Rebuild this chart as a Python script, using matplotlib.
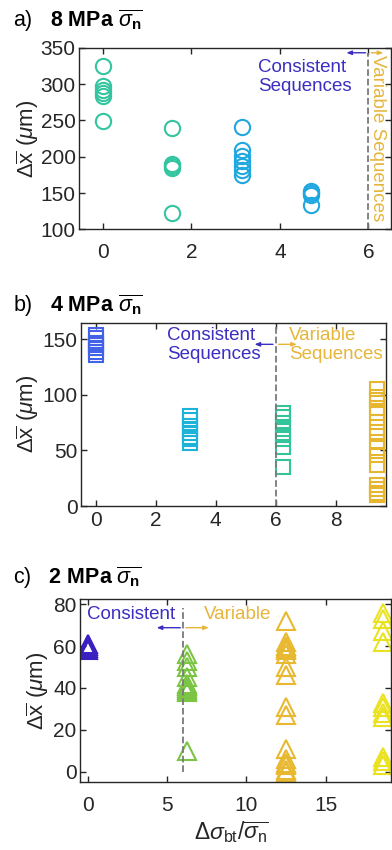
import numpy as np
import matplotlib
matplotlib.use("Agg")
import matplotlib.pyplot as plt

plt.rcParams['font.family'] = ['Liberation Sans', 'DejaVu Sans']
plt.rcParams['mathtext.fontset'] = 'custom'
plt.rcParams['mathtext.rm'] = 'Liberation Sans'
plt.rcParams['mathtext.it'] = 'Liberation Sans:italic'
plt.rcParams['mathtext.bf'] = 'Liberation Sans:bold'

# panel a: 8 MPa, circles
A_X = [0, 1.57, 3.14, 4.71]
A_Y = [
    [325, 297, 292, 288, 283, 249],
    [239, 190, 187, 184, 123],
    [241, 209, 201, 194, 187, 181, 175],
    [153, 150, 147, 133],
]
A_COLORS = ['#33C4A0', '#33C4A0', '#1FA8E0', '#1FA8E0']

# panel b: 4 MPa, squares
B_X = [0, 3.14, 6.25, 9.38]
B_Y = [
    [154, 151, 147, 145, 142, 139, 136],
    [81, 77, 72, 69, 66, 62, 60, 57],
    [84, 80, 75, 69, 64, 60, 53, 35],
    [105, 98, 95, 88, 84, 76, 67, 58, 52, 46, 37, 19, 15, 12, 10],
]
B_COLORS = ['#4262E8', '#1DB2D8', '#33C49A', '#E6B630']

# panel c: 2 MPa, triangles
C_X = [0, 6.26, 12.5, 18.6]
C_Y = [
    [61, 60, 59, 58],
    [56, 53, 50, 45, 42, 41, 40, 39, 38, 10],
    [72, 62, 60, 59, 58, 56, 50, 46, 31, 27, 11, 6, 4, 3, 1, 0],
    [76, 73, 67, 62, 33, 31, 28, 26, 7, 5, 3],
]
C_COLORS = ['#3A20C0', '#7CC444', '#E8B830', '#EAE21E']

TXT_BLUE = '#3B2EC0'
TXT_GOLD = '#E6B53A'
DARK = '#262626'
YLABEL = r'$\Delta\overline{\mathrm{x}}$ ($\mu$m)'
ARROW = '-|>,head_length=0.3,head_width=0.12'

W, H = 392, 850


def style(ax, xpad, label_x):
    ax.tick_params(direction='in', top=True, right=True, length=4,
                   labelsize=15, colors=DARK, width=1)
    ax.tick_params(axis='x', pad=xpad)
    ax.tick_params(axis='y', pad=2.5)
    for s in ax.spines.values():
        s.set_color(DARK)
        s.set_linewidth(1)
    ax.set_ylabel(YLABEL, fontsize=16, color=DARK)
    ax.yaxis.label.set_va('center')
    bb = ax.get_position()
    ax.yaxis.set_label_coords(label_x / W, (bb.y0 + bb.y1) / 2, transform=fig.transFigure)


def arrows(ax, y, xl, xr):
    ax.annotate('', xy=(xl, y), xytext=(6, y),
                arrowprops=dict(arrowstyle=ARROW, color=TXT_BLUE, lw=1))
    ax.annotate('', xy=(xr, y), xytext=(6, y),
                arrowprops=dict(arrowstyle=ARROW, color=TXT_GOLD, lw=1))


fig = plt.figure(figsize=(3.92, 8.5), dpi=100)

# ---- a ----
ax = fig.add_axes([0.2015, 0.7302, 0.797, 0.2137])
for x, ys, c in zip(A_X, A_Y, A_COLORS):
    ax.plot([x] * len(ys), ys, 'o', mfc='none', mec=c, ms=11, mew=1.5)
ax.plot([6, 6], [100, 343], '--', color='#7a7a7a', lw=1.3)
arrows(ax, 343, 5.44, 6.4)
ax.text(3.5, 309, 'Consistent\nSequences', color=TXT_BLUE, fontsize=13.5,
        ha='left', va='center', linespacing=1.15)
ax.text(6.2, 226, 'Variable Sequences', color=TXT_GOLD, fontsize=13.5,
        rotation=270, ha='center', va='center')
ax.set_xlim(-0.54, 6.52)
ax.set_ylim(100, 350)
ax.set_xticks([0, 2, 4, 6])
ax.set_yticks([100, 150, 200, 250, 300, 350])
style(ax, 10, 28)
fig.text(13 / W, 1 - 27 / H, r'a)   $\mathbf{8\ MPa}$ $\overline{\sigma_{\mathbf{n}}}$',
         fontsize=15.5, ha='left', va='baseline', color='black')

# ---- b ----
ax = fig.add_axes([0.2066, 0.4047, 0.778, 0.2157])
for x, ys, c in zip(B_X, B_Y, B_COLORS):
    ax.plot([x] * len(ys), ys, 's', mfc='none', mec=c, ms=9.5, mew=1.5)
ax.plot([6, 6], [0, 165], '--', color='#7a7a7a', lw=1.3)
arrows(ax, 145.5, 5.2, 6.8)
ax.text(2.37, 145, 'Consistent\nSequences', color=TXT_BLUE, fontsize=13.5,
        ha='left', va='center', linespacing=1.15)
ax.text(6.45, 145, 'Variable\nSequences', color=TXT_GOLD, fontsize=13.5,
        ha='left', va='center', linespacing=1.15)
ax.set_xlim(-0.5, 9.68)
ax.set_ylim(0, 165)
ax.set_xticks([0, 2, 4, 6, 8])
ax.set_yticks([0, 50, 100, 150])
style(ax, 3.5, 28)
fig.text(13 / W, 1 - 312 / H, r'b)   $\mathbf{4\ MPa}$ $\overline{\sigma_{\mathbf{n}}}$',
         fontsize=15.5, ha='left', va='baseline', color='black')

# ---- c ----
ax = fig.add_axes([0.204, 0.0804, 0.793, 0.2146])
for x, ys, c in zip(C_X, C_Y, C_COLORS):
    ax.plot([x] * len(ys), ys, '^', mfc='none', mec=c, ms=13, mew=1.5)
ax.plot([6, 6], [0, 78], '--', color='#7a7a7a', lw=1.3)
arrows(ax, 68.8, 4.16, 7.8)
ax.text(-0.04, 75, 'Consistent', color=TXT_BLUE, fontsize=13.5, ha='left', va='center')
ax.text(7.3, 75, 'Variable', color=TXT_GOLD, fontsize=13.5, ha='left', va='center')
ax.set_xlim(-0.5, 19.1)
ax.set_ylim(-4.8, 82.4)
ax.set_xticks([0, 5, 10, 15])
ax.set_yticks([0, 20, 40, 60, 80])
style(ax, 10.5, 38)
ax.set_xlabel(r'$\Delta\sigma_{\mathrm{bt}}/\overline{\sigma_{\mathrm{n}}}$', fontsize=16.5, color=DARK)
ax.xaxis.label.set_va('baseline')
ax.xaxis.set_label_coords(231 / W, 1 - 839 / H, transform=fig.transFigure)
fig.text(13 / W, 1 - 584 / H, r'c)   $\mathbf{2\ MPa}$ $\overline{\sigma_{\mathbf{n}}}$',
         fontsize=15.5, ha='left', va='baseline', color='black')

fig.savefig('out.png', dpi=100)
